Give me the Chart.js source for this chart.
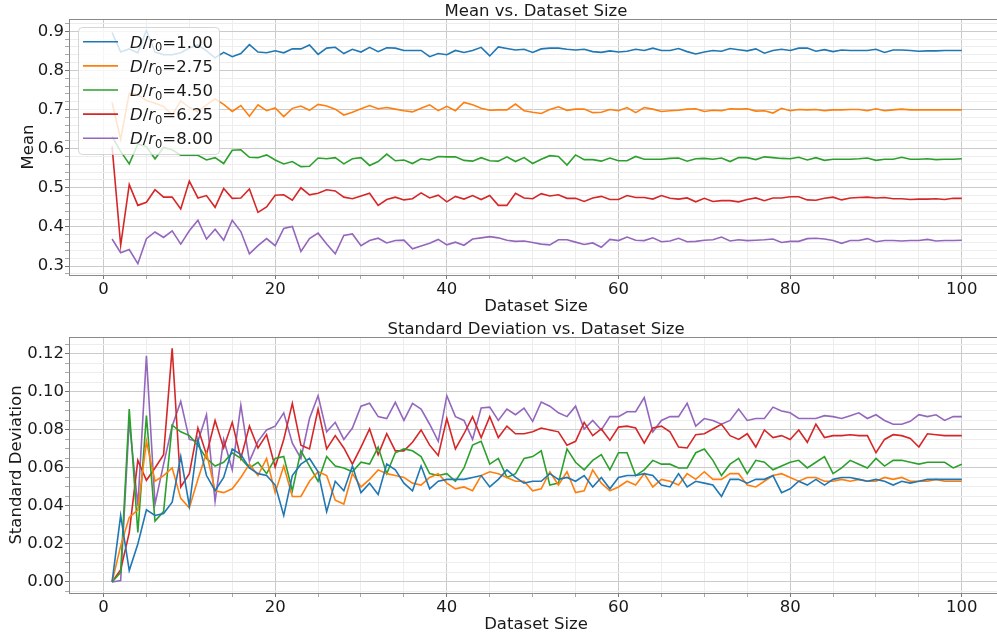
<!DOCTYPE html>
<html>
<head>
<meta charset="utf-8">
<script src="https://cdn.jsdelivr.net/npm/chart.js@4.4.1/dist/chart.umd.min.js"></script>
<style>
  html, body { margin: 0; padding: 0; background: #fff; }
  .panel { position: absolute; left: 0; width: 997px; }
  #meanBox { top: 0; height: 320px; }
  #stdBox { top: 320px; height: 319px; }
</style>
</head>
<body>
<div class="panel" id="meanBox"><canvas id="meanChart"></canvas></div>
<div class="panel" id="stdBox"><canvas id="stdChart"></canvas></div>
<script>
// dataset sizes 1..100 (x categories)
const datasetSizes = Array.from({ length: 100 }, (_, i) => i + 1)
const ratios = ['1.00', '2.75', '4.50', '6.25', '8.00']
const colors = ['#1f77b4', '#ff7f0e', '#2ca02c', '#d62728', '#9467bd']

const sizeTicks = [0, 20, 40, 60, 80, 100]
const meanTicks = [0.3, 0.4, 0.5, 0.6, 0.7, 0.8, 0.9]
const stdTicks = [0.00, 0.02, 0.04, 0.06, 0.08, 0.10, 0.12]

// mean per dataset size
const mean100 = [
  0.897,0.847,0.855,0.845,0.902,0.847,0.840,0.840,0.845,0.857,0.865,0.850,0.832,0.846,0.835,0.843,0.866,0.847,0.845,0.850,0.845,0.855,0.855,0.865,0.841,
  0.857,0.859,0.843,0.854,0.847,0.859,0.848,0.858,0.857,0.851,0.851,0.851,0.835,0.843,0.840,0.851,0.846,0.851,0.859,0.837,0.860,0.856,0.852,0.854,0.846,
  0.855,0.857,0.857,0.854,0.852,0.854,0.848,0.846,0.850,0.847,0.849,0.854,0.851,0.857,0.851,0.851,0.856,0.848,0.842,0.847,0.851,0.849,0.856,0.853,0.850,
  0.855,0.844,0.851,0.854,0.851,0.857,0.857,0.849,0.853,0.848,0.852,0.851,0.851,0.851,0.854,0.846,0.852,0.852,0.851,0.849,0.850,0.850,0.851,0.851,0.851]
const mean275 = [
  0.718,0.624,0.742,0.738,0.723,0.716,0.708,0.686,0.722,0.705,0.695,0.712,0.727,0.713,0.695,0.710,0.683,0.712,0.697,0.704,0.682,0.703,0.709,0.698,0.713,
  0.709,0.701,0.686,0.693,0.702,0.710,0.702,0.705,0.701,0.697,0.694,0.703,0.712,0.697,0.708,0.697,0.718,0.712,0.703,0.698,0.699,0.699,0.714,0.697,0.693,
  0.690,0.700,0.707,0.698,0.701,0.701,0.692,0.693,0.700,0.697,0.705,0.692,0.705,0.701,0.695,0.697,0.698,0.701,0.702,0.695,0.698,0.697,0.702,0.701,0.702,
  0.696,0.697,0.691,0.703,0.697,0.700,0.699,0.700,0.697,0.699,0.699,0.700,0.700,0.697,0.702,0.697,0.699,0.701,0.699,0.699,0.699,0.699,0.699,0.699,0.699]
const mean450 = [
  0.631,0.593,0.561,0.612,0.605,0.574,0.603,0.597,0.583,0.583,0.583,0.571,0.577,0.562,0.596,0.597,0.578,0.577,0.584,0.571,0.561,0.567,0.554,0.555,0.576,
  0.574,0.577,0.561,0.574,0.577,0.557,0.567,0.586,0.569,0.571,0.562,0.574,0.571,0.580,0.579,0.579,0.570,0.568,0.577,0.569,0.568,0.579,0.567,0.577,0.562,
  0.573,0.582,0.580,0.558,0.584,0.572,0.572,0.568,0.576,0.569,0.569,0.580,0.573,0.573,0.573,0.575,0.576,0.568,0.574,0.575,0.573,0.576,0.567,0.577,0.577,
  0.572,0.579,0.577,0.575,0.574,0.578,0.571,0.577,0.570,0.573,0.573,0.573,0.574,0.576,0.570,0.573,0.573,0.578,0.573,0.573,0.574,0.572,0.573,0.573,0.574]
const mean625 = [
  0.605,0.353,0.508,0.455,0.463,0.495,0.476,0.476,0.446,0.517,0.474,0.480,0.450,0.498,0.473,0.474,0.497,0.437,0.451,0.481,0.482,0.468,0.500,0.482,0.486,
  0.495,0.492,0.476,0.472,0.479,0.486,0.455,0.470,0.476,0.469,0.472,0.487,0.474,0.481,0.464,0.478,0.471,0.480,0.470,0.480,0.455,0.455,0.486,0.474,0.472,
  0.485,0.479,0.482,0.473,0.473,0.465,0.474,0.478,0.470,0.470,0.480,0.475,0.475,0.471,0.480,0.473,0.471,0.474,0.464,0.473,0.465,0.467,0.467,0.464,0.470,
  0.474,0.467,0.474,0.474,0.477,0.477,0.469,0.468,0.473,0.476,0.469,0.474,0.475,0.476,0.474,0.475,0.472,0.472,0.470,0.471,0.471,0.472,0.470,0.473,0.473]
const mean800 = [
  0.369,0.334,0.342,0.306,0.370,0.387,0.373,0.390,0.356,0.390,0.417,0.369,0.394,0.366,0.417,0.388,0.331,0.352,0.370,0.352,0.396,0.401,0.337,0.370,0.384,
  0.356,0.331,0.378,0.382,0.352,0.365,0.371,0.359,0.365,0.366,0.344,0.351,0.358,0.368,0.354,0.361,0.353,0.369,0.372,0.375,0.372,0.366,0.363,0.364,0.360,
  0.356,0.354,0.367,0.367,0.361,0.355,0.359,0.348,0.368,0.365,0.374,0.366,0.365,0.372,0.362,0.364,0.371,0.362,0.363,0.366,0.367,0.374,0.364,0.367,0.365,
  0.366,0.367,0.369,0.360,0.363,0.363,0.370,0.371,0.369,0.365,0.358,0.365,0.365,0.370,0.362,0.365,0.365,0.364,0.365,0.365,0.368,0.364,0.365,0.365,0.366]

// standard deviation per dataset size
const std100 = [
  0,0.035,0.006,0.020,0.038,0.035,0.036,0.042,0.066,0.040,0.075,0.056,0.048,0.055,0.070,0.067,0.060,0.057,0.056,0.051,0.035,0.056,0.062,0.065,0.058,
  0.037,0.053,0.048,0.061,0.047,0.052,0.046,0.062,0.059,0.052,0.048,0.061,0.049,0.053,0.054,0.054,0.054,0.055,0.056,0.050,0.054,0.059,0.055,0.052,0.053,
  0.053,0.057,0.054,0.055,0.053,0.056,0.050,0.055,0.049,0.055,0.056,0.056,0.057,0.056,0.051,0.050,0.057,0.050,0.053,0.052,0.051,0.045,0.054,0.054,0.052,
  0.054,0.054,0.056,0.047,0.049,0.053,0.051,0.054,0.051,0.054,0.055,0.055,0.054,0.053,0.054,0.053,0.051,0.053,0.052,0.053,0.054,0.054,0.054,0.054,0.054]
const std275 = [
  0,0.019,0.034,0.038,0.074,0.053,0.056,0.060,0.044,0.039,0.054,0.068,0.048,0.047,0.049,0.055,0.062,0.056,0.065,0.047,0.061,0.045,0.045,0.053,0.058,
  0.056,0.043,0.041,0.057,0.050,0.054,0.059,0.057,0.056,0.055,0.052,0.051,0.055,0.057,0.052,0.049,0.050,0.048,0.056,0.058,0.057,0.055,0.053,0.053,0.048,
  0.049,0.058,0.051,0.058,0.047,0.048,0.059,0.052,0.048,0.050,0.053,0.051,0.057,0.050,0.054,0.053,0.051,0.057,0.054,0.058,0.054,0.054,0.057,0.057,0.051,
  0.050,0.053,0.056,0.057,0.055,0.053,0.055,0.055,0.053,0.053,0.054,0.053,0.054,0.053,0.053,0.055,0.054,0.055,0.053,0.053,0.053,0.054,0.053,0.053,0.053]
const std450 = [
  0,0.005,0.091,0.026,0.0875,0.032,0.037,0.0825,0.079,0.077,0.072,0.065,0.061,0.063,0.068,0.065,0.060,0.063,0.057,0.065,0.066,0.048,0.069,0.061,0.053,
  0.066,0.061,0.060,0.058,0.063,0.062,0.071,0.057,0.068,0.070,0.069,0.066,0.057,0.056,0.057,0.053,0.060,0.072,0.074,0.062,0.065,0.055,0.057,0.065,0.066,
  0.069,0.051,0.052,0.070,0.063,0.059,0.064,0.067,0.059,0.068,0.068,0.056,0.059,0.064,0.062,0.062,0.060,0.060,0.068,0.070,0.064,0.056,0.062,0.065,0.057,
  0.064,0.063,0.059,0.061,0.063,0.064,0.060,0.063,0.066,0.057,0.060,0.064,0.062,0.060,0.065,0.061,0.064,0.064,0.063,0.062,0.063,0.063,0.063,0.060,0.062]
const std625 = [
  0,0.0065,0.026,0.064,0.0535,0.060,0.067,0.123,0.050,0.057,0.081,0.067,0.085,0.0705,0.084,0.065,0.082,0.0705,0.0775,0.0605,0.075,0.094,0.072,0.070,0.091,
  0.070,0.077,0.0705,0.062,0.071,0.0805,0.067,0.078,0.069,0.069,0.0735,0.080,0.072,0.0665,0.086,0.070,0.078,0.087,0.076,0.087,0.076,0.082,0.078,0.078,0.079,
  0.081,0.080,0.079,0.072,0.074,0.084,0.077,0.0805,0.0745,0.0815,0.082,0.081,0.073,0.081,0.082,0.079,0.071,0.0705,0.0775,0.078,0.0805,0.083,0.077,0.075,0.078,
  0.071,0.080,0.076,0.077,0.075,0.080,0.0735,0.083,0.076,0.077,0.077,0.0775,0.077,0.077,0.068,0.075,0.0775,0.077,0.0755,0.071,0.078,0.0775,0.077,0.077,0.077]
const std800 = [
  0,0.0007,0.085,0.040,0.119,0.041,0.062,0.082,0.095,0.075,0.074,0.088,0.0425,0.075,0.059,0.093,0.0635,0.074,0.080,0.082,0.089,0.073,0.065,0.086,0.098,
  0.079,0.084,0.075,0.081,0.0925,0.094,0.087,0.086,0.0945,0.085,0.094,0.091,0.083,0.074,0.098,0.087,0.085,0.075,0.0915,0.092,0.085,0.091,0.088,0.0915,0.0845,
  0.0947,0.0925,0.089,0.087,0.0925,0.0805,0.085,0.080,0.087,0.087,0.0896,0.0896,0.097,0.079,0.085,0.087,0.087,0.094,0.082,0.086,0.085,0.083,0.085,0.091,0.085,
  0.086,0.086,0.092,0.090,0.089,0.086,0.086,0.086,0.0875,0.087,0.086,0.0875,0.089,0.086,0.088,0.085,0.083,0.083,0.0845,0.088,0.087,0.088,0.085,0.087,0.087]

const FONT = '"DejaVu Sans", "Liberation Sans", sans-serif'
const TEXT = '#1a1a1a'
const SPINE = '#8a8a8a'

function range(a, b, step){
  var out = []
  for (var v = a; v <= b + step / 1000; v += step) out.push(Math.round(v * 1e6) / 1e6)
  return out
}
function isMajor(v, list){
  return list.some(function(m){ return Math.abs(m - v) < 1e-7 })
}

function makeDatasets(series){
  return series.map(function(vals, i){
    return {
      label: 'D/r0=' + ratios[i],
      data: datasetSizes.map(function(s, j){ return { x: s, y: vals[j] } }),
      borderColor: colors[i],
      backgroundColor: colors[i],
      borderWidth: 1.6,
      pointRadius: 0,
      tension: 0,
      fill: false
    }
  })
}

function gridOpts(majors){
  return {
    color: function(c){ return isMajor(c.tick.value, majors) ? '#cbcbcb' : '#ededed' },
    tickColor: function(c){ return isMajor(c.tick.value, majors) ? '#777' : '#aaa' },
    tickLength: 4,
    lineWidth: 1
  }
}

function xScale(height){
  var lo = -4.02, hi = 104.1
  return {
    type: 'linear', min: lo, max: hi,
    afterBuildTicks: function(s){ s.ticks = range(0, 100, 5).map(function(v){ return { value: v } }) },
    afterFit: function(s){ s.height = height },
    ticks: {
      autoSkip: false, maxRotation: 0, padding: 1, color: TEXT,
      font: { family: FONT, size: 16.5 },
      callback: function(v){ return isMajor(v, sizeTicks) ? String(Math.round(v)) : '' }
    },
    grid: gridOpts(sizeTicks),
    border: { color: SPINE, width: 1 }
  }
}

function yScale(lo, hi, minorStep, majors, digits){
  return {
    type: 'linear', min: lo, max: hi,
    afterBuildTicks: function(s){
      s.ticks = range(Math.ceil(lo / minorStep) * minorStep, hi, minorStep)
        .filter(function(v){ return v >= lo && v <= hi })
        .map(function(v){ return { value: v } })
    },
    afterFit: function(s){ s.width = 69 },
    ticks: {
      autoSkip: false, padding: 1, color: TEXT,
      font: { family: FONT, size: 16.5 },
      callback: function(v){ return isMajor(v, majors) ? v.toFixed(digits) : '' }
    },
    grid: gridOpts(majors),
    border: { color: SPINE, width: 1 }
  }
}

function drawLegend(ctx){
  var x0 = 78.5, y0 = 27.5, w = 141, h = 127, r = 4
  ctx.save()
  ctx.beginPath()
  ctx.moveTo(x0 + r, y0)
  ctx.arcTo(x0 + w, y0, x0 + w, y0 + h, r)
  ctx.arcTo(x0 + w, y0 + h, x0, y0 + h, r)
  ctx.arcTo(x0, y0 + h, x0, y0, r)
  ctx.arcTo(x0, y0, x0 + w, y0, r)
  ctx.closePath()
  ctx.fillStyle = 'rgba(255,255,255,0.8)'
  ctx.fill()
  ctx.strokeStyle = 'rgba(204,204,204,0.8)'
  ctx.lineWidth = 1
  ctx.stroke()
  ratios.forEach(function(name, i){
    var cy = 41.7 + i * 24.15
    ctx.strokeStyle = colors[i]
    ctx.lineWidth = 1.6
    ctx.beginPath(); ctx.moveTo(83, cy); ctx.lineTo(118, cy); ctx.stroke()
    var base = cy + 6, x = 130
    ctx.fillStyle = TEXT
    ctx.textBaseline = 'alphabetic'
    ctx.textAlign = 'left'
    var parts = [
      ['D', 'italic 16.5px ' + FONT, 0],
      ['/', '16.5px ' + FONT, 0],
      ['r', 'italic 16.5px ' + FONT, 0],
      ['0', '11.5px ' + FONT, 3.5],
      ['=' + name, '16.5px ' + FONT, 0]
    ]
    parts.forEach(function(p){
      ctx.font = p[1]
      ctx.fillText(p[0], x, base + p[2])
      x += ctx.measureText(p[0]).width
    })
  })
  ctx.restore()
}

var decor = {
  id: 'decor',
  afterDraw: function(chart, args, o){
    var ctx = chart.ctx, a = chart.chartArea
    ctx.save()
    // top spine
    ctx.strokeStyle = SPINE
    ctx.lineWidth = 1
    ctx.beginPath(); ctx.moveTo(a.left, a.top + 0.5); ctx.lineTo(a.right, a.top + 0.5); ctx.stroke()
    ctx.fillStyle = TEXT
    ctx.font = '16.5px ' + FONT
    ctx.textAlign = 'center'
    ctx.textBaseline = 'alphabetic'
    ctx.fillText(o.title, 536, o.titleBase)
    ctx.fillText('Dataset Size', 536, o.xLabelBase)
    ctx.textBaseline = 'middle'
    ctx.translate(o.yLabelX, (a.top + a.bottom) / 2)
    ctx.rotate(-Math.PI / 2)
    ctx.fillText(o.yLabel, 0, 0)
    ctx.restore()
    if (o.legend) drawLegend(ctx)
  }
}

function build(id, series, y, pad, xh, opts){
  return new Chart(document.getElementById(id), {
    type: 'line',
    data: { datasets: makeDatasets(series) },
    options: {
      responsive: true,
      maintainAspectRatio: false,
      animation: false,
      events: [],
      layout: { padding: { top: pad, left: 0, right: 0, bottom: 0 } },
      plugins: { legend: { display: false }, tooltip: { enabled: false }, decor: opts },
      scales: { x: xScale(xh), y: y }
    },
    plugins: [decor]
  })
}

build('meanChart', [mean100, mean275, mean450, mean625, mean800],
  yScale(0.277, 0.9314, 0.02, meanTicks, 1), 19, 45,
  { title: 'Mean vs. Dataset Size', titleBase: 15.7, xLabelBase: 311, yLabel: 'Mean', yLabelX: 28.5, legend: true })

build('stdChart', [std100, std275, std450, std625, std800],
  yScale(-0.0058, 0.1289, 0.005, stdTicks, 2), 17, 46,
  { title: 'Standard Deviation vs. Dataset Size', titleBase: 14, xLabelBase: 309, yLabel: 'Standard Deviation', yLabelX: 17, legend: false })
</script>
</body>
</html>
